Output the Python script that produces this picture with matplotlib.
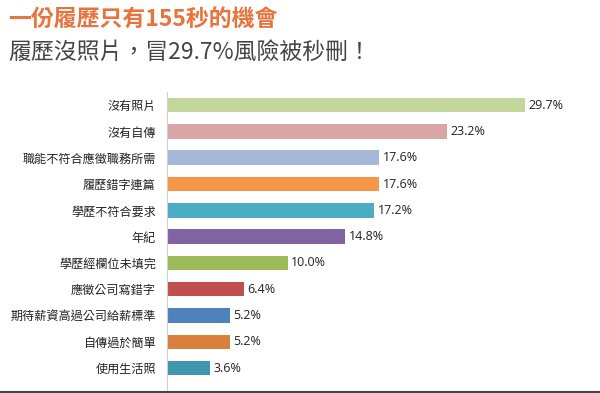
import matplotlib
matplotlib.use("Agg")
import matplotlib.pyplot as plt

plt.rcParams['font.family'] = ['Noto Sans CJK TC', 'DejaVu Sans']

categories = ['沒有照片', '沒有自傳', '職能不符合應徵職務所需', '履歷錯字連篇', '學歷不符合要求',
              '年紀', '學歷經欄位未填完', '應徵公司寫錯字', '期待薪資高過公司給薪標準',
              '自傳過於簡單', '使用生活照']
values = [29.7, 23.2, 17.6, 17.6, 17.2, 14.8, 10.0, 6.4, 5.2, 5.2, 3.6]
colors = ['#C4D79B', '#D9A6A8', '#A7B7D7', '#F79646', '#4BACC6', '#8064A2',
          '#9BBB59', '#C0504D', '#4F81BD', '#D9803A', '#3F97AE']

fig = plt.figure(figsize=(6, 3.93), dpi=100)
ax = fig.add_axes([167/600, 0.0, 423/600, (393 - 92) / 393])

y = list(range(len(categories)))
ax.barh(y, values, height=0.55, color=colors)
for yi, v in zip(y, values):
    ax.text(v + 0.3, yi, f'{v:.1f}%', va='center', ha='left', fontsize=9,
            color='#222222', family=['Open Sans', 'DejaVu Sans'])

ax.set_ylim(10.95, -0.5)
ax.set_xlim(0, 35.1)
ax.set_yticks(y)
ax.set_yticklabels(categories, fontsize=8.7, color='#222222')
ax.tick_params(axis='y', length=0, pad=8)
ax.set_xticks([])
for s in ['top', 'right', 'bottom']:
    ax.spines[s].set_visible(False)
ax.spines['left'].set_color('#d0d0d0')
ax.spines['left'].set_linewidth(0.8)

fig.text(8/600, 1 - 19/393, '一份履歷只有155秒的機會', fontsize=16.5, fontweight='bold',
         color='#E8733C', va='center', ha='left')
fig.text(8/600, 1 - 52/393, '履歷沒照片，冒29.7%風險被秒刪！', fontsize=16.5,
         fontweight='medium', color='#444444', va='center', ha='left')

fig.add_artist(plt.Line2D([0, 1], [1.5/393, 1.5/393], color='#444444', linewidth=1.5))

fig.savefig('out.png', dpi=100)
